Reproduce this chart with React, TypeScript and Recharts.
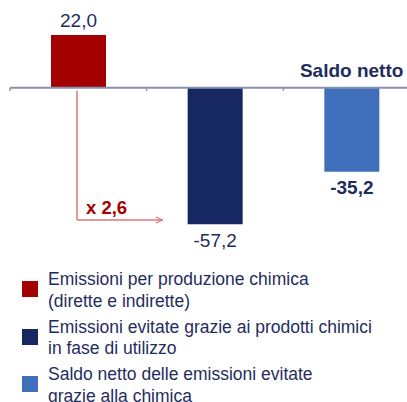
import React from "react";
import {
  BarChart,
  Bar,
  Cell,
  XAxis,
  YAxis,
  ReferenceLine,
  ReferenceDot,
  LabelList,
} from "recharts";

const categories = ["Produzione", "Utilizzo", "Saldo netto"];
const values = [22.0, -57.2, -35.2];
const valueLabels = ["22,0", "-57,2", "-35,2"];
const multiplierLabel = "x 2,6";
const legendLines = [
  ["Emissioni per produzione chimica", "(dirette e indirette)"],
  ["Emissioni evitate grazie ai prodotti chimici", "in fase di utilizzo"],
  ["Saldo netto delle emissioni evitate", "grazie alla chimica"],
];

const barColors = ["#A50000", "#172761", "#3F6FBB"];
const ink = "#1F2D5E";
const axisColor = "#8592B6";
const arrowColor = "#D57A7A";

const data = categories.map((name, i) => ({ name, idx: i, value: values[i] }));

// category boundaries and arrow, in index units (category i centred on i)
const boundaries = [-0.5, 0.5, 1.5];
const arrowX = -0.01;
const arrowEndX = 0.617;
const arrowY = -55.4;

/* eslint-disable @typescript-eslint/no-explicit-any */
function ValueLabel(props: any) {
  const { x, y, width, height, index } = props;
  const top = Math.min(y, y + height);
  const bottom = Math.max(y, y + height);
  const positive = values[index] >= 0;
  return (
    <text
      x={x + width / 2}
      y={positive ? top - 15 : bottom + 16}
      textAnchor="middle"
      dominantBaseline="central"
      fill={ink}
      fontSize={19}
      fontWeight={index === 2 ? "bold" : "normal"}
    >
      {valueLabels[index]}
    </text>
  );
}

function MultiplierLabel(props: any) {
  const { viewBox } = props;
  return (
    <text
      x={viewBox.x + 9}
      y={viewBox.y - 6}
      fill="#A50000"
      fontSize={18.5}
      fontWeight="bold"
    >
      {multiplierLabel}
    </text>
  );
}

export default function App() {
  return (
    <div
      style={{
        position: "absolute",
        left: 0,
        top: 0,
        width: 407,
        height: 402,
        overflow: "hidden",
        background: "#fff",
        fontFamily: "'Liberation Sans', Arial, sans-serif",
      }}
    >
      <BarChart
        width={420}
        height={260}
        data={data}
        margin={{ top: 16, right: 0, left: 10, bottom: 29 }}
      >
        <XAxis dataKey="name" hide />
        <XAxis
          xAxisId="n"
          dataKey="idx"
          type="number"
          scale="linear"
          domain={[-0.5, 2.5]}
          allowDataOverflow
          hide
        />
        <YAxis domain={[-60, 30]} hide />
        <Bar dataKey="value" barSize={55} isAnimationActive={false}>
          {data.map((d, i) => (
            <Cell key={d.name} fill={barColors[i]} />
          ))}
          <LabelList dataKey="value" content={<ValueLabel />} />
        </Bar>

        {/* zero axis with tick marks */}
        <ReferenceLine y={0} stroke={axisColor} strokeWidth={2} />
        {boundaries.map((t) => (
          <ReferenceLine
            key={t}
            xAxisId="n"
            segment={[
              { x: t, y: 0 },
              { x: t, y: -1.3 },
            ]}
            stroke={axisColor}
            strokeWidth={1.5}
          />
        ))}

        {/* Saldo netto heading */}
        <ReferenceDot
          x="Saldo netto"
          y={0}
          r={0}
          fill="none"
          stroke="none"
          label={{
            value: "Saldo netto",
            position: "top",
            offset: 11,
            fill: ink,
            fontSize: 19,
            fontWeight: "bold",
          }}
        />

        {/* multiplier arrow */}
        <ReferenceLine
          xAxisId="n"
          segment={[
            { x: arrowX, y: -1.3 },
            { x: arrowX, y: arrowY },
          ]}
          stroke={arrowColor}
          strokeWidth={1.5}
        />
        <ReferenceLine
          xAxisId="n"
          segment={[
            { x: arrowX, y: arrowY },
            { x: arrowEndX, y: arrowY },
          ]}
          stroke={arrowColor}
          strokeWidth={1.5}
        />
        <ReferenceLine
          xAxisId="n"
          segment={[
            { x: arrowEndX - 0.05, y: arrowY + 1.26 },
            { x: arrowEndX, y: arrowY },
          ]}
          stroke={arrowColor}
          strokeWidth={1.2}
        />
        <ReferenceLine
          xAxisId="n"
          segment={[
            { x: arrowEndX - 0.05, y: arrowY - 1.26 },
            { x: arrowEndX, y: arrowY },
          ]}
          stroke={arrowColor}
          strokeWidth={1.2}
        />
        <ReferenceDot
          xAxisId="n"
          x={arrowX}
          y={arrowY}
          r={0}
          fill="none"
          stroke="none"
          label={(p: any) => <MultiplierLabel {...p} />}
        />
      </BarChart>

      {/* Legend */}
      <div style={{ position: "absolute", left: 0, top: 269, width: 407 }}>
        {legendLines.map((lines, i) => (
          <div
            key={i}
            style={{ position: "relative", height: 47.5, paddingLeft: 48 }}
          >
            <div
              style={{
                position: "absolute",
                left: 22,
                top: 12,
                width: 16,
                height: 16,
                background: barColors[i],
              }}
            />
            {lines.map((l) => (
              <div
                key={l}
                style={{
                  fontSize: 17.5,
                  lineHeight: "21.5px",
                  color: ink,
                  whiteSpace: "nowrap",
                }}
              >
                {l}
              </div>
            ))}
          </div>
        ))}
      </div>
    </div>
  );
}
